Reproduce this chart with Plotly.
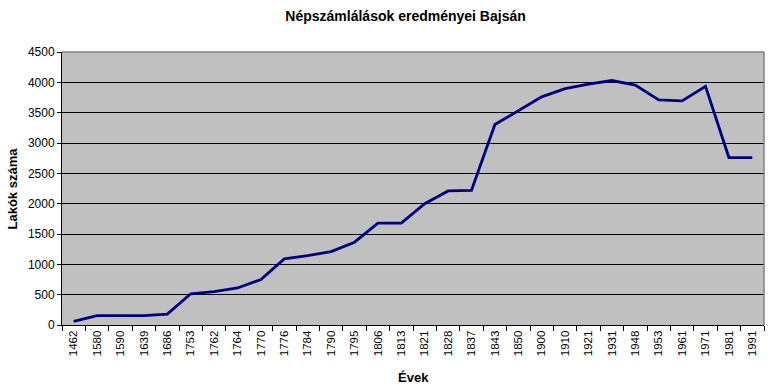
import plotly.graph_objects as go

years = ["1462", "1580", "1590", "1639", "1686", "1753", "1762", "1764", "1770", "1776",
         "1784", "1790", "1795", "1806", "1813", "1821", "1828", "1837", "1843", "1850",
         "1900", "1910", "1921", "1931", "1948", "1953", "1961", "1971", "1981", "1991"]
residents = [60, 155, 155, 155, 180, 515, 550, 610, 750, 1090,
             1145, 1210, 1365, 1680, 1680, 2000, 2210, 2220, 3305, 3535,
             3760, 3895, 3970, 4030, 3955, 3710, 3695, 3935, 2760, 2760]

FONT = "Liberation Sans, Arial, sans-serif"

fig = go.Figure()
fig.add_trace(go.Scatter(x=years, y=residents, mode="lines",
                         line=dict(color="#000080", width=2.8), hoverinfo="x+y"))

fig.update_layout(
    width=774, height=392,
    margin=dict(l=62, r=10, t=52, b=67),
    paper_bgcolor="white", plot_bgcolor="#C0C0C0",
    showlegend=False,
    font=dict(family=FONT, color="black", size=12),
    title=dict(text="<b>Népszámlálások eredményei Bajsán</b>", x=0.524, xanchor="center",
               y=1 - 16 / 392, yanchor="middle", yref="container",
               font=dict(family=FONT, size=14, color="black")),
    xaxis=dict(type="category", tickangle=-90, tickson="boundaries", ticks="outside",
               ticklen=5, tickcolor="black", showline=True, linecolor="black", linewidth=1,
               showgrid=False, tickfont=dict(family=FONT, size=11.5, color="black"),
               range=[-0.5, len(years) - 0.5]),
    yaxis=dict(range=[0, 4500], tickvals=[0, 500, 1000, 1500, 2000, 2500, 3000, 3500, 4000, 4500],
               ticks="outside", ticklen=4, tickcolor="black", showline=True, linecolor="black",
               linewidth=1, showgrid=True, gridcolor="black", gridwidth=1, zeroline=False,
               tickfont=dict(family=FONT, size=12, color="black")),
)

fig.add_shape(type="line", xref="paper", yref="paper", x0=0, x1=1, y0=1, y1=1,
              line=dict(color="#808080", width=1.5), layer="above")
fig.add_shape(type="line", xref="paper", yref="paper", x0=1, x1=1, y0=0, y1=1,
              line=dict(color="#808080", width=1.5), layer="above")

fig.add_annotation(text="<b>Évek</b>", xref="paper", yref="paper", x=0.5, y=0,
                   yshift=-52, xanchor="center", yanchor="middle", showarrow=False,
                   font=dict(family=FONT, size=13, color="black"))
fig.add_annotation(text="<b>Lakók száma</b>", xref="paper", yref="paper", x=0, y=0.5,
                   xshift=-50, xanchor="center", yanchor="middle", textangle=-90,
                   showarrow=False, font=dict(family=FONT, size=13, color="black"))

fig.write_html("out.html", config={"displayModeBar": False},
               post_script="document.body.style.margin='0';document.body.style.overflow='hidden';")
